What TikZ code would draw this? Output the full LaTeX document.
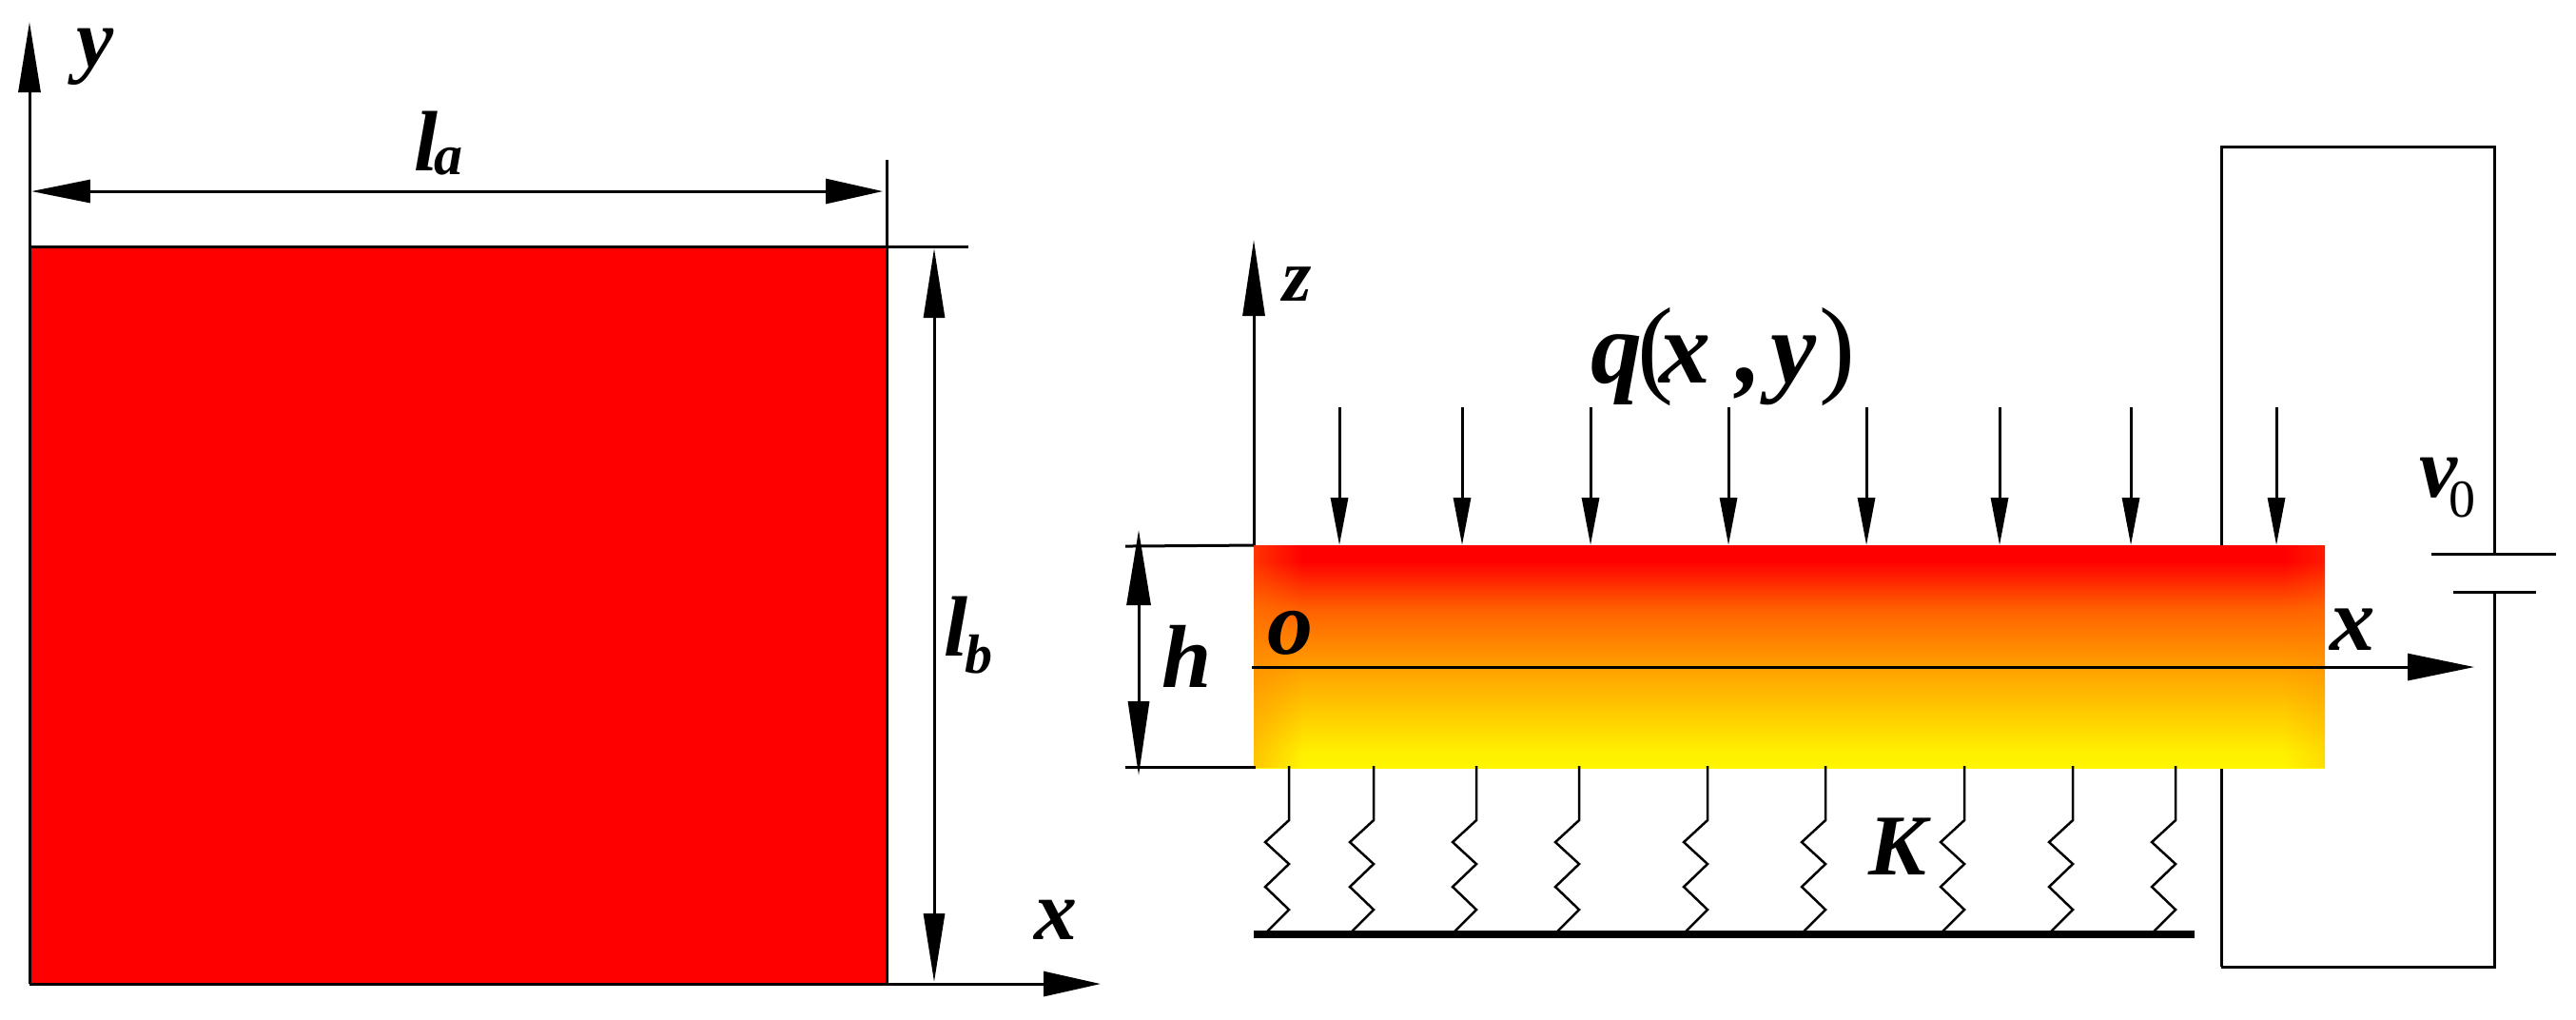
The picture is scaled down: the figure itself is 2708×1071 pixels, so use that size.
\documentclass[tikz,border=0pt]{standalone}
\usepackage{fontspec}
\setmainfont{Liberation Serif}
\usetikzlibrary{arrows.meta,fadings}
\definecolor{beamR}{RGB}{255,0,0}
\definecolor{beamA}{RGB}{255,96,0}
\definecolor{beamB}{RGB}{255,160,0}
\definecolor{beamC}{RGB}{255,240,0}
\definecolor{beamY}{RGB}{255,246,0}
\pgfdeclareverticalshading{beamgrad}{100bp}{color(0bp)=(beamY); color(25bp)=(beamY); color(28.6bp)=(beamC); color(47.6bp)=(beamB); color(60.7bp)=(beamA); color(71.4bp)=(beamR); color(100bp)=(beamR)}
\tikzset{
  wire/.style={line width=0.3pt,black},
  thinspring/.style={line width=0.25pt,black,line join=miter},
  tiphead/.style 2 args={wire,-{Triangle[length=#1pt,width=#2pt]}},
  dimboth/.style n args={4}{wire,{Triangle[length=#1pt,width=#2pt]}-{Triangle[length=#3pt,width=#4pt]}},
  bi/.style={inner sep=0pt,font=\bfseries\itshape\fontsize{#1}{#1}\selectfont},
  it/.style={inner sep=0pt,font=\itshape\fontsize{#1}{#1}\selectfont},
  rm/.style={inner sep=0pt,font=\fontsize{#1}{#1}\selectfont}
}
\begin{document}
\begin{tikzpicture}[x=0.1pt,y=-0.1pt]
\useasboundingbox (0,0) rectangle (2708,1071);
\fill[white] (0,0) rectangle (2708,1071);
% ---------- left panel
\coordinate (sqTL) at (31,259);
\coordinate (sqTR) at (932,259);
\coordinate (sqBR) at (932,1034);
\coordinate (sqBL) at (31,1034);
\fill[red] (sqTL) rectangle (sqBR);
\draw[wire] (sqTR) -- (sqBR);
\coordinate (yTip) at (31,23);
\coordinate (xTip) at (1157,1034);
\draw[tiphead={7.4}{2.3}] (sqBL) -- (yTip);
\draw[tiphead={6.0}{2.6}] (sqBL) -- (xTip);
\coordinate (tickTop) at (932,168);
\coordinate (extR) at (1018,259);
\draw[wire] (sqTL) -- (sqTR) -- (extR);
\draw[wire] (tickTop) -- (sqTR);
\coordinate (laL) at (33,201);
\coordinate (laR) at (928,201);
\draw[dimboth={6.2}{2.4}{6.0}{2.6}] (laL) -- (laR);
\coordinate (lbT) at (982,261);
\coordinate (lbB) at (982,1032);
\draw[dimboth={7.3}{2.2}{7.2}{2.2}] (lbT) -- (lbB);
\node[bi=8.8] (lblY) at (100,60) {y};
\node[bi=9.0] (lblX) at (1110,967) {x};
\node[bi=9.0] (lblLa) at (448,148) {l};
\node[bi=6.0] (lblLaSub) at (471,170) {a};
\node[bi=9.0] (lblLb) at (1005,658) {l};
\node[bi=5.8] (lblLbSub) at (1029,688) {b};
% ---------- circuit (behind the beam)
\coordinate (cTL) at (2335,154);
\coordinate (cTR) at (2622,154);
\coordinate (cBL) at (2335,1016);
\coordinate (cBR) at (2622,1016);
\coordinate (pl1) at (2622,582);
\coordinate (pl2) at (2622,622);
\coordinate (pl1a) at (2556,582);
\coordinate (pl1b) at (2687,582);
\coordinate (pl2a) at (2579,622);
\coordinate (pl2b) at (2666,622);
\draw[wire] (cBL) -- (cTL) -- (cTR) -- (pl1);
\draw[wire] (pl1a) -- (pl1b);
\draw[wire] (pl2a) -- (pl2b);
\draw[wire] (pl2) -- (cBR) -- (cBL);
% ---------- beam
\coordinate (bTL) at (1318,573);
\coordinate (bBR) at (2444,807);
\shade[shading=beamgrad] (bTL) rectangle (bBR);
\fill[orange,opacity=0.4,path fading=east] (1318,573) rectangle (1370,807);
\fill[orange,opacity=0.2,path fading=west] (2400,573) rectangle (2444,807);
% ---------- z axis, x axis
\coordinate (zTip) at (1318,252);
\draw[tiphead={8.0}{2.3}] (bTL) -- (zTip);
\coordinate (oAx) at (1316,701);
\coordinate (xAx) at (2601,701);
\draw[tiphead={7.0}{2.8}] (oAx) -- (xAx);
% ---------- h dimension
\coordinate (hExtT) at (1183,574);
\coordinate (hExtB) at (1183,806);
\coordinate (hBR) at (1320,806);
\draw[wire] (hExtT) -- (bTL);
\draw[wire] (hExtB) -- (hBR);
\coordinate (hT) at (1197,557);
\coordinate (hB) at (1197,815);
\draw[dimboth={7.9}{2.5}{7.8}{2.2}] (hT) -- (hB);
% ---------- load arrows
\foreach \lx in {1408,1537,1672,1817,1962,2102,2240,2393}{
  \coordinate (loadA) at (\lx,428);
  \coordinate (loadB) at (\lx,573);
  \draw[tiphead={5.0}{1.8}] (loadA) -- (loadB);
}
% ---------- springs
\coordinate (gndL) at (1318,982);
\coordinate (gndR) at (2307,982);
\draw[line width=0.8pt,black] (gndL) -- (gndR);
\foreach \sx in {1355,1444,1552,1660,1795,1919,2065,2179,2287}{
  \draw[thinspring] (\sx,805) -- (\sx,862) -- (\sx-25,885) -- (\sx,908) -- (\sx-25,932) -- (\sx,956) -- (\sx-23,979);
}
% ---------- labels
\node[bi=7.8] (lblZ) at (1364,299) {z};
\node[bi=9.6] (lblO) at (1356,665) {o};
\node[bi=9.4] (lblH) at (1248,690) {h};
\node[bi=9.5] (lblX2) at (2473,662) {x};
\node[bi=9.1] (lblK) at (1995,890) {K};
\node[inner sep=0pt,anchor=base west,font=\fontsize{10.8}{10.8}\selectfont] (lblQ) at (1670,402) {\bfseries\itshape q\kern-0.5pt{\normalfont\fontsize{11.4}{11.4}\selectfont(}\kern-1.5pt x\kern2.7pt,\kern1pt y\kern0.3pt{\normalfont\fontsize{11.4}{11.4}\selectfont)}};
\node[bi=9.0,anchor=base west] (lblV) at (2541,522) {v};
\node[rm=5.6,anchor=base west] (lblV0) at (2572,543) {0};
\end{tikzpicture}
\end{document}
